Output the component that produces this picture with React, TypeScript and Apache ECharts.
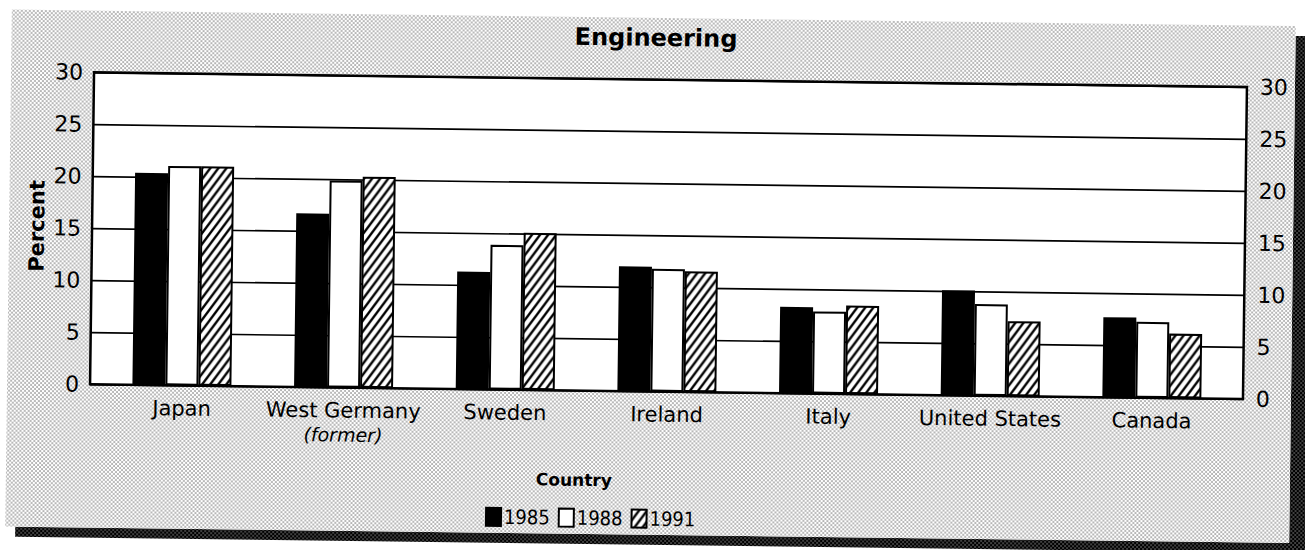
import React, { useEffect, useRef } from "react";
import * as echarts from "echarts";

const countries = ["Japan", "West Germany (former)", "Sweden", "Ireland", "Italy", "United States", "Canada"];
const years = ["1985", "1988", "1991"];
const values1985 = [20.4, 16.7, 11.3, 12.0, 8.3, 10.1, 7.7];
const values1988 = [21.1, 19.9, 13.9, 11.8, 7.9, 8.8, 7.3];
const values1991 = [21.1, 20.3, 15.1, 11.6, 8.5, 7.2, 6.2];
const yTicks = [0, 5, 10, 15, 20, 25, 30];

const FONT = "'DejaVu Sans', sans-serif";
const LEGEND_FONT = "'Liberation Sans Narrow', 'DejaVu Sans Condensed', 'DejaVu Sans', sans-serif";

const svgUrl = (s: string) => "data:image/svg+xml;charset=utf-8," + encodeURIComponent(s);

const hatchFill = {
  image: svgUrl(
    "<svg xmlns='http://www.w3.org/2000/svg' width='8' height='11'><rect width='8' height='11' fill='#fff'/><path d='M-8,22 L16,-11 M-16,22 L8,-11 M0,22 L24,-11' stroke='#000' stroke-width='2.4' fill='none'/></svg>"
  ),
  repeat: "repeat",
  imageWidth: 8,
  imageHeight: 11,
};

const lightTone = {
  image: svgUrl(
    "<svg xmlns='http://www.w3.org/2000/svg' width='4' height='4'><rect width='4' height='4' fill='#fff'/><rect x='0.5' y='0.5' width='1.05' height='1.05' fill='#000'/><rect x='2.5' y='2.5' width='1.05' height='1.05' fill='#000'/></svg>"
  ),
  repeat: "repeat",
  imageWidth: 4,
  imageHeight: 4,
};

const darkTone = {
  image: svgUrl(
    "<svg xmlns='http://www.w3.org/2000/svg' width='4' height='4'><rect width='4' height='4' fill='#000'/><rect x='0.5' y='0.5' width='1' height='1' fill='#fff'/><rect x='2.5' y='2.5' width='1' height='1' fill='#fff'/></svg>"
  ),
  repeat: "repeat",
  imageWidth: 4,
  imageHeight: 4,
};

const yMin = yTicks[0];
const yMax = yTicks[yTicks.length - 1];
const yStep = yTicks[1] - yTicks[0];

const PLOT_TOP = 79.7;
const PLOT_H = 312;

function buildOption() {
  const barStyle = (color: any) => ({ color, borderColor: "#000", borderWidth: 2 });
  const common = {
    type: "bar",
    xAxisIndex: 1,
    yAxisIndex: 2,
    barWidth: 33,
    barGap: "0%",
  };
  return {
    animation: false,
    backgroundColor: "transparent",
    title: {
      text: "Engineering",
      left: 653.5,
      top: 26,
      padding: 0,
      textAlign: "center",
      textStyle: { fontFamily: FONT, fontSize: 24, fontWeight: "bold", color: "#000" },
    },
    legend: {
      data: years,
      left: 488.6,
      top: 509,
      padding: 0,
      icon: "rect",
      itemWidth: 15,
      itemHeight: 18,
      itemGap: 8,
      textStyle: { fontFamily: LEGEND_FONT, fontSize: 20, color: "#000", padding: [0, 0, 0, -2] },
    },
    grid: [
      {
        left: 92,
        top: PLOT_TOP,
        width: 1153,
        height: PLOT_H,
        show: true,
        backgroundColor: "#fff",
        borderColor: "#000",
        borderWidth: 2.5,
      },
      { left: 103, top: PLOT_TOP, width: 1131.7, height: PLOT_H },
    ],
    xAxis: [
      { type: "value", gridIndex: 0, show: false, min: 0, max: 1 },
      {
        type: "category",
        gridIndex: 1,
        data: countries,
        axisLine: { show: false },
        axisTick: { show: false },
        axisLabel: {
          interval: 0,
          margin: 11,
          fontFamily: FONT,
          fontSize: 21,
          lineHeight: 24,
          color: "#000",
          formatter: (v: string) => v.replace(" (former)", "\n{i|(former)}"),
          rich: {
            i: { fontFamily: FONT, fontSize: 19, fontStyle: "italic", lineHeight: 24, color: "#000" },
          },
        },
      },
    ],
    yAxis: [
      {
        type: "value",
        gridIndex: 0,
        position: "left",
        min: yMin,
        max: yMax,
        interval: yStep,
        axisLine: { show: false },
        axisTick: { show: false },
        axisLabel: { margin: 11, fontFamily: FONT, fontSize: 22, color: "#000" },
        splitLine: { show: true, lineStyle: { color: "#000", width: 1.7 } },
      },
      {
        type: "value",
        gridIndex: 0,
        position: "right",
        min: yMin,
        max: yMax,
        interval: yStep,
        axisLine: { show: false },
        axisTick: { show: false },
        axisLabel: { margin: 13, fontFamily: FONT, fontSize: 22, color: "#000" },
        splitLine: { show: false },
      },
      { type: "value", gridIndex: 1, min: yMin, max: yMax, show: false },
    ],
    graphic: [
      { type: "rect", z: -20, silent: true, shape: { x: 1293, y: 28, width: 22, height: 517 }, style: { fill: darkTone } },
      { type: "rect", z: -20, silent: true, shape: { x: 19, y: 535, width: 1296, height: 10 }, style: { fill: darkTone } },
      { type: "rect", z: -19, silent: true, shape: { x: 9, y: 18, width: 1284, height: 517 }, style: { fill: lightTone } },
      {
        type: "text",
        z: 10,
        x: 37,
        y: 234,
        rotation: Math.PI / 2,
        style: {
          text: "Percent",
          fontFamily: FONT,
          fontSize: 21,
          fontWeight: "bold",
          fill: "#000",
          align: "center",
          verticalAlign: "middle",
          textAlign: "center",
          textVerticalAlign: "middle",
        },
      },
      {
        type: "text",
        z: 10,
        x: 577,
        y: 481,
        style: {
          text: "Country",
          fontFamily: FONT,
          fontSize: 17,
          fontWeight: "bold",
          fill: "#000",
          align: "center",
          verticalAlign: "middle",
          textAlign: "center",
          textVerticalAlign: "middle",
        },
      },
    ],
    series: [
      { ...common, name: years[0], data: values1985, itemStyle: barStyle("#000") },
      { ...common, name: years[1], data: values1988, itemStyle: barStyle("#fff") },
      { ...common, name: years[2], data: values1991, itemStyle: barStyle(hatchFill) },
    ],
  };
}

export default function App() {
  const ref = useRef<HTMLDivElement>(null);
  useEffect(() => {
    if (!ref.current) return;
    const chart = echarts.init(ref.current, undefined, { renderer: "svg" });
    chart.setOption(buildOption() as any);
    return () => chart.dispose();
  }, []);
  return (
    <div
      style={{
        position: "fixed",
        left: 0,
        top: 0,
        width: 1305,
        height: 550,
        overflow: "hidden",
        background: "#fff",
      }}
    >
      <div
        ref={ref}
        style={{
          position: "absolute",
          left: 0,
          top: 0,
          width: 1325,
          height: 570,
          transform: "rotate(0.73deg)",
          transformOrigin: "668.5px 236px",
        }}
      />
    </div>
  );
}
